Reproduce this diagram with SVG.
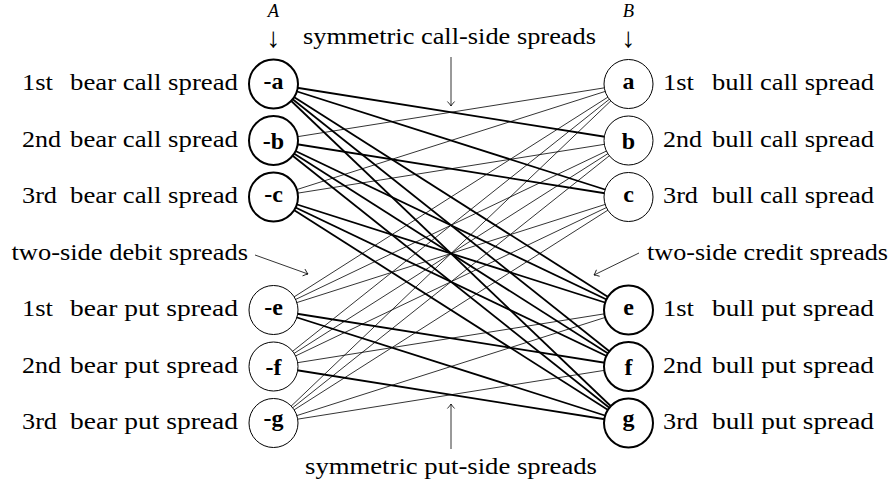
<svg xmlns="http://www.w3.org/2000/svg" width="894" height="487" viewBox="0 0 894 487">
<defs>
<marker id="tip" markerUnits="userSpaceOnUse" markerWidth="12" markerHeight="12" viewBox="-6 -6 12 12" refX="0" refY="0" orient="auto">
<path d="M -4.5,-3.6 Q -1.6,-0.9 0,0 Q -1.6,0.9 -4.5,3.6" fill="none" stroke="#000" stroke-width="0.8"/>
</marker>
</defs>
<style>
text{font-family:"Liberation Serif","DejaVu Serif","Times New Roman",serif;font-size:24px;fill:#000}
.it{font-style:italic;text-anchor:middle;font-size:18.5px}
.sym{text-anchor:middle;font-size:28px}
.nl{font-weight:bold;text-anchor:middle}
.thick{stroke:#000;stroke-width:1.8}
.thin{stroke:#000;stroke-width:0.8}
.cthick{fill:#fff;stroke:#000;stroke-width:2}
.cthin{fill:#fff;stroke:#000;stroke-width:1}
.arr{stroke:#000;stroke-width:0.8;fill:none;marker-end:url(#tip)}
</style>
<rect width="894" height="487" fill="#fff"/>

<g id="connectors">
<g class="thick">
<line x1="273.5" y1="84" x2="628.5" y2="140.5"/>
<line x1="273.5" y1="84" x2="628.5" y2="197"/>
<line x1="273.5" y1="140.5" x2="628.5" y2="197"/>
<line x1="273.5" y1="84" x2="628.5" y2="310"/>
<line x1="273.5" y1="84" x2="628.5" y2="366.5"/>
<line x1="273.5" y1="84" x2="628.5" y2="423"/>
<line x1="273.5" y1="140.5" x2="628.5" y2="310"/>
<line x1="273.5" y1="140.5" x2="628.5" y2="366.5"/>
<line x1="273.5" y1="140.5" x2="628.5" y2="423"/>
<line x1="273.5" y1="197" x2="628.5" y2="310"/>
<line x1="273.5" y1="197" x2="628.5" y2="366.5"/>
<line x1="273.5" y1="197" x2="628.5" y2="423"/>
<line x1="273.5" y1="310" x2="628.5" y2="366.5"/>
<line x1="273.5" y1="310" x2="628.5" y2="423"/>
<line x1="273.5" y1="366.5" x2="628.5" y2="423"/>
</g>
<g class="thin">
<line x1="273.5" y1="140.5" x2="628.5" y2="84"/>
<line x1="273.5" y1="197" x2="628.5" y2="84"/>
<line x1="273.5" y1="197" x2="628.5" y2="140.5"/>
<line x1="273.5" y1="310" x2="628.5" y2="84"/>
<line x1="273.5" y1="310" x2="628.5" y2="140.5"/>
<line x1="273.5" y1="310" x2="628.5" y2="197"/>
<line x1="273.5" y1="366.5" x2="628.5" y2="84"/>
<line x1="273.5" y1="366.5" x2="628.5" y2="140.5"/>
<line x1="273.5" y1="366.5" x2="628.5" y2="197"/>
<line x1="273.5" y1="423" x2="628.5" y2="84"/>
<line x1="273.5" y1="423" x2="628.5" y2="140.5"/>
<line x1="273.5" y1="423" x2="628.5" y2="197"/>
<line x1="273.5" y1="366.5" x2="628.5" y2="310"/>
<line x1="273.5" y1="423" x2="628.5" y2="310"/>
<line x1="273.5" y1="423" x2="628.5" y2="366.5"/>
</g>
<line class="arr" x1="451" y1="57" x2="451" y2="106"/>
<line class="arr" x1="451" y1="449" x2="451" y2="404"/>
<line class="arr" x1="255" y1="255" x2="308" y2="274"/>
<line class="arr" x1="639" y1="253" x2="594" y2="275"/>
</g>

<g id="headA">
<text class="it" x="273.5" y="16.5">A</text>
<text class="sym" x="273.5" y="47">↓</text>
</g>
<g id="headB">
<text class="it" x="628.5" y="16.5">B</text>
<text class="sym" x="628.5" y="47">↓</text>
</g>

<g id="label-call-side"><text x="303" y="44" textLength="293" lengthAdjust="spacingAndGlyphs">symmetric call-side spreads</text></g>
<g id="label-put-side"><text x="305" y="474" textLength="292" lengthAdjust="spacingAndGlyphs">symmetric put-side spreads</text></g>
<g id="label-debit"><text x="11.5" y="260" textLength="236.5" lengthAdjust="spacingAndGlyphs">two-side debit spreads</text></g>
<g id="label-credit"><text x="647" y="260" textLength="241" lengthAdjust="spacingAndGlyphs">two-side credit spreads</text></g>

<g id="node-na">
<circle class="cthick" cx="273.5" cy="84" r="24.5"/>
<text class="nl" x="273.5" y="89.3">-a</text>
<text y="90"><tspan x="22" textLength="31" lengthAdjust="spacingAndGlyphs">1st</tspan> <tspan x="70" textLength="168" lengthAdjust="spacingAndGlyphs">bear call spread</tspan></text>
</g>
<g id="node-nb">
<circle class="cthick" cx="273.5" cy="140.5" r="24.5"/>
<text class="nl" x="273.5" y="148.8">-b</text>
<text y="146.5"><tspan x="22" textLength="39" lengthAdjust="spacingAndGlyphs">2nd</tspan> <tspan x="70" textLength="168" lengthAdjust="spacingAndGlyphs">bear call spread</tspan></text>
</g>
<g id="node-nc">
<circle class="cthick" cx="273.5" cy="197" r="24.5"/>
<text class="nl" x="273.5" y="202.3">-c</text>
<text y="203"><tspan x="22" textLength="35" lengthAdjust="spacingAndGlyphs">3rd</tspan> <tspan x="70" textLength="168" lengthAdjust="spacingAndGlyphs">bear call spread</tspan></text>
</g>
<g id="node-ne">
<circle class="cthin" cx="273.5" cy="310" r="24.5"/>
<text class="nl" x="273.5" y="315.3">-e</text>
<text y="316"><tspan x="22" textLength="31" lengthAdjust="spacingAndGlyphs">1st</tspan> <tspan x="70" textLength="168" lengthAdjust="spacingAndGlyphs">bear put spread</tspan></text>
</g>
<g id="node-nf">
<circle class="cthin" cx="273.5" cy="366.5" r="24.5"/>
<text class="nl" x="273.5" y="374.8">-f</text>
<text y="372.5"><tspan x="22" textLength="39" lengthAdjust="spacingAndGlyphs">2nd</tspan> <tspan x="70" textLength="168" lengthAdjust="spacingAndGlyphs">bear put spread</tspan></text>
</g>
<g id="node-ng">
<circle class="cthin" cx="273.5" cy="423" r="24.5"/>
<text class="nl" x="273.5" y="426">-g</text>
<text y="429"><tspan x="22" textLength="35" lengthAdjust="spacingAndGlyphs">3rd</tspan> <tspan x="70" textLength="168" lengthAdjust="spacingAndGlyphs">bear put spread</tspan></text>
</g>

<g id="node-a">
<circle class="cthin" cx="628.5" cy="84" r="24.5"/>
<text class="nl" x="628.5" y="89.3">a</text>
<text y="90"><tspan x="663" textLength="31" lengthAdjust="spacingAndGlyphs">1st</tspan> <tspan x="712" textLength="162" lengthAdjust="spacingAndGlyphs">bull call spread</tspan></text>
</g>
<g id="node-b">
<circle class="cthin" cx="628.5" cy="140.5" r="24.5"/>
<text class="nl" x="628.5" y="148.8">b</text>
<text y="146.5"><tspan x="663" textLength="39" lengthAdjust="spacingAndGlyphs">2nd</tspan> <tspan x="712" textLength="162" lengthAdjust="spacingAndGlyphs">bull call spread</tspan></text>
</g>
<g id="node-c">
<circle class="cthin" cx="628.5" cy="197" r="24.5"/>
<text class="nl" x="628.5" y="202.3">c</text>
<text y="203"><tspan x="663" textLength="35" lengthAdjust="spacingAndGlyphs">3rd</tspan> <tspan x="712" textLength="162" lengthAdjust="spacingAndGlyphs">bull call spread</tspan></text>
</g>
<g id="node-e">
<circle class="cthick" cx="628.5" cy="310" r="24.5"/>
<text class="nl" x="628.5" y="315.3">e</text>
<text y="316"><tspan x="663" textLength="31" lengthAdjust="spacingAndGlyphs">1st</tspan> <tspan x="712" textLength="162" lengthAdjust="spacingAndGlyphs">bull put spread</tspan></text>
</g>
<g id="node-f">
<circle class="cthick" cx="628.5" cy="366.5" r="24.5"/>
<text class="nl" x="628.5" y="374.8">f</text>
<text y="372.5"><tspan x="663" textLength="39" lengthAdjust="spacingAndGlyphs">2nd</tspan> <tspan x="712" textLength="162" lengthAdjust="spacingAndGlyphs">bull put spread</tspan></text>
</g>
<g id="node-g">
<circle class="cthick" cx="628.5" cy="423" r="24.5"/>
<text class="nl" x="628.5" y="426">g</text>
<text y="429"><tspan x="663" textLength="35" lengthAdjust="spacingAndGlyphs">3rd</tspan> <tspan x="712" textLength="162" lengthAdjust="spacingAndGlyphs">bull put spread</tspan></text>
</g>
</svg>
